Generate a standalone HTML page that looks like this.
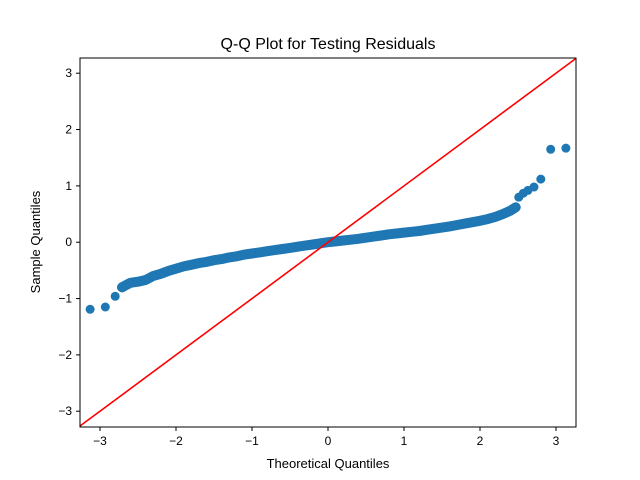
<!DOCTYPE html>
<html><head><meta charset="utf-8"><style>
body{margin:0;background:#fff}
svg{display:block;font-family:"Liberation Sans","DejaVu Sans",sans-serif}
</style></head><body>
<svg id="chart" width="640" height="480">
<rect width="640" height="480" fill="#fff"/>
<text x="328" y="49" font-size="16" text-anchor="middle">Q-Q Plot for Testing Residuals</text>
<g id="grid"></g>
<g id="marks"></g>
<rect x="80" y="58" width="496" height="369" fill="none" stroke="#000" stroke-width="1"/>
<text x="328" y="468" font-size="13" text-anchor="middle">Theoretical Quantiles</text>
<text x="0" y="0" font-size="13" text-anchor="middle" transform="translate(40,242) rotate(-90)">Sample Quantiles</text>
</svg>
<script>
const theoretical=[-3.13,-2.93,-2.80,-2.71,-2.6,-2.5,-2.4,-2.3,-2.2,-2.1,-2.0,-1.9,-1.8,-1.7,-1.6,-1.5,-1.4,-1.3,-1.2,-1.1,-1.0,-0.9,-0.8,-0.7,-0.6,-0.5,-0.4,-0.3,-0.2,-0.1,0,0.1,0.2,0.3,0.4,0.5,0.6,0.7,0.8,0.9,1.0,1.1,1.2,1.3,1.4,1.5,1.6,1.7,1.8,1.9,2.0,2.1,2.2,2.3,2.4,2.47,2.51,2.57,2.63,2.71,2.80,2.93,3.13];
const sample=[-1.19,-1.15,-0.96,-0.80,-0.72,-0.70,-0.67,-0.60,-0.56,-0.51,-0.47,-0.43,-0.40,-0.37,-0.35,-0.32,-0.30,-0.27,-0.25,-0.22,-0.20,-0.18,-0.16,-0.14,-0.12,-0.10,-0.08,-0.06,-0.04,-0.02,0,0.015,0.03,0.045,0.06,0.08,0.10,0.12,0.14,0.155,0.17,0.185,0.20,0.22,0.24,0.26,0.28,0.305,0.33,0.355,0.38,0.41,0.45,0.50,0.56,0.62,0.80,0.87,0.92,0.98,1.12,1.65,1.67];
const xTicks=[-3,-2,-1,0,1,2,3];
const yTicks=[-3,-2,-1,0,1,2,3];
const xLim=[-3.263,3.263], yLim=[-3.28,3.27];
const NS="http://www.w3.org/2000/svg";
const L=80,R=576,T=58,B=427;
function sx(v){return L+(v-xLim[0])/(xLim[1]-xLim[0])*(R-L);}
function sy(v){return B-(v-yLim[0])/(yLim[1]-yLim[0])*(B-T);}
const g=document.getElementById('grid'), m=document.getElementById('marks');
function mk(tag,attrs,parent){const e=document.createElementNS(NS,tag);for(const k in attrs)e.setAttribute(k,attrs[k]);parent.appendChild(e);return e;}
xTicks.forEach(t=>{
  const l=mk('line',{x1:sx(t),x2:sx(t),y1:B,y2:B+4,stroke:'#000'},g);
  
  
  const tx=mk('text',{x:sx(t),y:B+18,'font-size':12,'text-anchor':'middle'},g);
  tx.textContent=(t<0?'\u2212'+(-t):t);
  
  
});
yTicks.forEach(t=>{
  const l=mk('line',{x1:L-4,x2:L,y1:sy(t),y2:sy(t),stroke:'#000'},g);
  
  
  const tx=mk('text',{x:L-8,y:sy(t)+4,'font-size':12,'text-anchor':'end'},g);
  tx.textContent=(t<0?'\u2212'+(-t):t);
  
  
});
let d='';
theoretical.forEach((x,i)=>{ if(x>=-2.71 && x<=2.47){ d+=(d?'L':'M')+sx(x).toFixed(1)+','+sy(sample[i]).toFixed(1);} });
const band=mk('path',{d:d,fill:'none',stroke:'#1f77b4','stroke-width':10,'stroke-linecap':'round','stroke-linejoin':'round'},m);


theoretical.forEach((x,i)=>{
  const c=mk('circle',{cx:sx(x),cy:sy(sample[i]),r:4.5,fill:'#1f77b4'},m);
  
  
});
const ln=mk('line',{x1:sx(xLim[0]),y1:sy(xLim[0]),x2:sx(xLim[1]),y2:sy(xLim[1]),stroke:'#ff0000','stroke-width':1.6},m);


</script>
</body></html>
